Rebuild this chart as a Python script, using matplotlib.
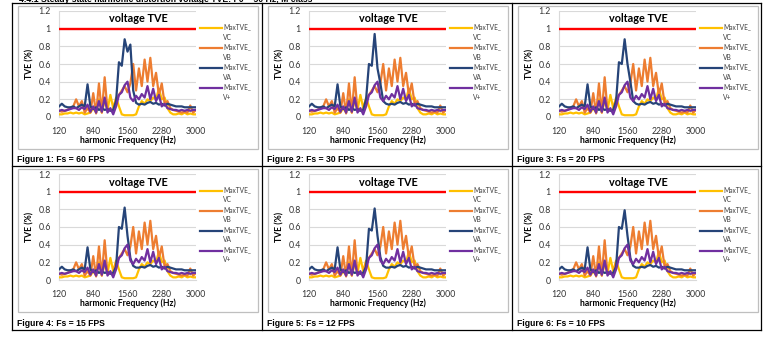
import numpy as np
import matplotlib.pyplot as plt
from matplotlib.lines import Line2D
from matplotlib.patches import Rectangle

# harmonic frequency grid (Hz) and axis labels
freqs = np.arange(120, 3001, 60)
xtick_vals = [120, 840, 1560, 2280, 3000]

# max TVE (%) per harmonic
tve_vc = [0.03, 0.03, 0.04, 0.04, 0.05, 0.04, 0.05, 0.04, 0.05, 0.03,
          0.04, 0.05, 0.10, 0.05, 0.20, 0.05, 0.18, 0.08, 0.25, 0.10,
          0.22, 0.12, 0.03, 0.02, 0.02, 0.02, 0.02, 0.03, 0.12, 0.18,
          0.15, 0.20, 0.18, 0.22, 0.20, 0.32, 0.20, 0.22, 0.10, 0.05,
          0.03, 0.03, 0.04, 0.03, 0.05, 0.03, 0.04, 0.03, 0.03]
tve_vb = [0.07, 0.06, 0.07, 0.08, 0.10, 0.12, 0.20, 0.12, 0.18, 0.05,
          0.10, 0.05, 0.27, 0.04, 0.38, 0.05, 0.45, 0.07, 0.08, 0.07,
          0.20, 0.25, 0.30, 0.35, 0.28, 0.38, 0.60, 0.30, 0.55, 0.35,
          0.65, 0.40, 0.67, 0.35, 0.50, 0.25, 0.38, 0.15, 0.18, 0.10,
          0.08, 0.07, 0.06, 0.05, 0.06, 0.05, 0.13, 0.05, 0.08]
tve_va = [0.12, 0.15, 0.12, 0.11, 0.11, 0.12, 0.10, 0.12, 0.14, 0.12,
          0.37, 0.12, 0.09, 0.11, 0.08, 0.10, 0.08, 0.09, 0.07, 0.08,
          0.18, 0.62, 0.58, 0.88, 0.74, 0.82, 0.30, 0.16, 0.14, 0.15,
          0.14, 0.16, 0.17, 0.15, 0.16, 0.14, 0.15, 0.13, 0.15, 0.14,
          0.13, 0.12, 0.12, 0.12, 0.11, 0.11, 0.11, 0.11, 0.11]
tve_vplus = [0.07, 0.08, 0.07, 0.08, 0.09, 0.10, 0.10, 0.08, 0.11, 0.09,
             0.14, 0.06, 0.12, 0.05, 0.18, 0.06, 0.22, 0.05, 0.10, 0.03,
             0.12, 0.25, 0.28, 0.36, 0.40, 0.22, 0.18, 0.24, 0.20, 0.26,
             0.22, 0.35, 0.20, 0.32, 0.18, 0.25, 0.12, 0.15, 0.10, 0.09,
             0.08, 0.08, 0.07, 0.08, 0.07, 0.08, 0.07, 0.08, 0.08]
tve_limit = 1.0

# VA values around its peak (1320..1740 Hz) for each reporting rate
va_peak_start = 20
va_peaks = [
    [0.18, 0.62, 0.58, 0.88, 0.74, 0.82, 0.30, 0.16],
    [0.20, 0.60, 0.58, 0.94, 0.55, 0.38, 0.18, 0.15],
    [0.18, 0.62, 0.60, 0.88, 0.60, 0.40, 0.18, 0.15],
    [0.15, 0.60, 0.58, 0.82, 0.50, 0.25, 0.16, 0.14],
    [0.15, 0.58, 0.56, 0.81, 0.50, 0.26, 0.16, 0.14],
    [0.15, 0.60, 0.58, 0.79, 0.50, 0.25, 0.16, 0.14],
]
fps = [60, 30, 20, 15, 12, 10]

series_names = ["VC", "VB", "VA", "V+"]
colors = ["#FFC000", "#ED7D31", "#264478", "#7030A0"]

W, H = 763, 343
fig = plt.figure(figsize=(W / 100, H / 100), dpi=100)
chart_font = ["Lato", "DejaVu Sans"]
cap_font = ["Liberation Sans", "DejaVu Sans"]


def fx(x):
    return x / W


def fy(y):
    return 1 - y / H


def box(l, t, w, h):
    return [l / W, 1 - (t + h) / H, w / W, h / H]


# section heading, running off the top of the page
fig.text(fx(19), fy(2.2), "4.4.1 Steady state harmonic distortion voltage TVE: F0 = 50 Hz, M class",
         fontsize=6.2, fontweight="bold", family=cap_font, va="baseline", ha="left")

for k in range(6):
    r, c = divmod(k, 3)
    cx = 12 + 250 * c
    cy = 3 + 163 * r

    va = list(tve_va)
    va[va_peak_start:va_peak_start + len(va_peaks[k])] = va_peaks[k]
    data = [tve_vc, tve_vb, va, tve_vplus]

    # chart area border
    fig.patches.append(Rectangle((fx(cx + 6), fy(cy + 146)), 240 / W, 143 / H,
                                 transform=fig.transFigure, fill=False,
                                 edgecolor="#BFBFBF", lw=0.9))

    ax = fig.add_axes(box(cx + 47, cy + 8, 137, 106))
    ax.axhline(tve_limit, color="#FF0000", lw=1.7, zorder=3)
    for vals, col in zip(data, colors):
        ax.plot(freqs, vals, color=col, lw=1.6, zorder=3)

    ax.set_xlim(freqs[0], freqs[-1])
    ax.set_ylim(0, 1.2)
    ax.set_xticks(xtick_vals)
    ax.set_xticklabels([str(v) for v in xtick_vals], fontsize=6.3, family=chart_font, color="#333333")
    yt = [0, 0.2, 0.4, 0.6, 0.8, 1, 1.2]
    ax.set_yticks(yt)
    ax.set_yticklabels(["0", "0.2", "0.4", "0.6", "0.8", "1", "1.2"], fontsize=6.3,
                       family=chart_font, color="#333333")
    ax.tick_params(length=0, pad=6)
    ax.tick_params(axis="x", pad=7)
    ax.grid(axis="y", color="#D9D9D9", lw=0.8)
    ax.set_axisbelow(True)
    for side in ["top", "right"]:
        ax.spines[side].set_visible(False)
    ax.spines["left"].set_color("#D9D9D9")
    ax.spines["bottom"].set_color("#D9D9D9")
    ax.spines["left"].set_linewidth(0.8)
    ax.spines["bottom"].set_linewidth(0.8)

    ax.set_xlabel("harmonic Frequency (Hz)", fontsize=6.2, fontweight="bold", family=chart_font, labelpad=0)
    ax.set_ylabel("TVE (%)", fontsize=6.2, fontweight="bold", family=chart_font, labelpad=3)

    # chart title sits inside the plot area
    fig.text(fx(cx + 126), fy(cy + 16), "voltage TVE", fontsize=7.8, fontweight="bold",
             family=chart_font, ha="center", va="center")

    # legend
    for j, (name, col) in enumerate(zip(series_names, colors)):
        ly = cy + 25 + 20 * j
        fig.lines.append(Line2D([fx(cx + 188), fx(cx + 210)], [fy(ly), fy(ly)],
                                transform=fig.transFigure, color=col, lw=1.6))
        fig.text(fx(cx + 211), fy(ly - 1), "MaxTVE_", fontsize=4.8, family=chart_font,
                 va="center", ha="left", color="#404040")
        fig.text(fx(cx + 211), fy(ly + 9), name, fontsize=4.8, family=chart_font,
                 va="center", ha="left", color="#404040")

    fig.text(fx(cx + 5), fy(cy + 157), f"Figure {k + 1}: Fs = {fps[k]} FPS",
             fontsize=6.2, fontweight="bold", family=cap_font, va="center", ha="left")

# table rules
for x in [12, 262, 512, 761]:
    fig.lines.append(Line2D([fx(x), fx(x)], [fy(3), fy(330)], transform=fig.transFigure,
                            color="black", lw=0.9))
for y in [3, 166, 330]:
    fig.lines.append(Line2D([fx(12), fx(761)], [fy(y), fy(y)], transform=fig.transFigure,
                            color="black", lw=0.9))

fig.savefig("out.png", dpi=100)
